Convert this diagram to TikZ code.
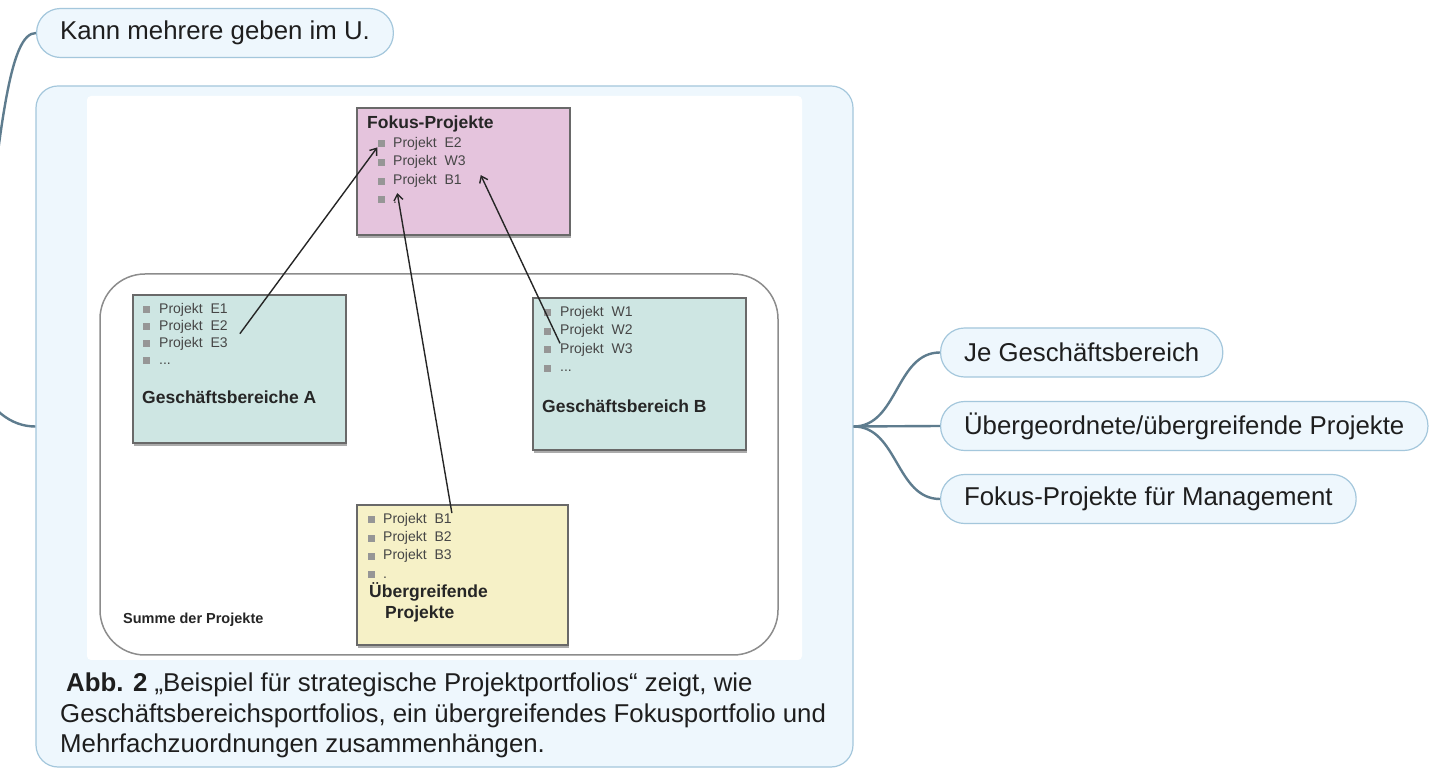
\documentclass[tikz,border=0pt]{standalone}
\usepackage{fontspec}
\setmainfont{Liberation Sans}
\usetikzlibrary{
    arrows.meta,
    positioning,
    shadows,
    calc
}
\definecolor{mapFill}{RGB}{238, 247, 253}
\definecolor{mapBorder}{RGB}{164, 199, 220}
\definecolor{mapLine}{RGB}{94, 124, 142}
\definecolor{mapText}{RGB}{30, 30, 30}
\definecolor{fokusPink}{RGB}{229, 196, 221}
\definecolor{bereichTeal}{RGB}{206, 230, 227}
\definecolor{uebergrYellow}{RGB}{246, 241, 199}
\definecolor{boxEdge}{RGB}{105, 105, 105}
\definecolor{bulletGray}{RGB}{150, 150, 150}
\definecolor{itemText}{RGB}{70, 70, 70}
\definecolor{sumEdge}{RGB}{140, 140, 140}
\def\picW{1432}
\def\picH{779}
\tikzset{
    topic/.style={
        rectangle,
        rounded corners=24pt,
        minimum height=49pt,
        inner xsep=23.5pt,
        inner ysep=0pt,
        fill=mapFill,
        draw=mapBorder,
        line width=1.2pt,
        text=mapText,
        font=\fontsize{25.8}{31}\selectfont,
        anchor=west
    },
    figure/.style={
        rectangle,
        rounded corners=22pt,
        fill=mapFill,
        draw=mapBorder,
        line width=1.2pt
    },
    branch/.style={
        draw=mapLine,
        line width=2.4pt
    },
    % Portfolio Diagram Styles
    portfolio/.style={
        rectangle,
        draw=boxEdge,
        line width=1.5pt,
        drop shadow={shadow xshift=1pt, shadow yshift=-3pt, opacity=0.6, fill=black!55}
    },
    bullet/.style={
        rectangle,
        fill=bulletGray,
        minimum size=7pt,
        inner sep=0pt
    },
    item/.style={
        anchor=west,
        inner sep=0pt,
        text height=10pt,
        text depth=3pt,
        text=itemText,
        font=\fontsize{14}{16}\selectfont
    },
    boxTitle/.style={
        anchor=west,
        inner sep=0pt,
        text=black!85,
        font=\bfseries\fontsize{17.5}{21}\selectfont
    },
    pointer/.style={
        draw=black!85,
        line width=1.4pt,
        -{Straight Barb[length=6pt, width=9pt]}
    }
}

\begin{document}
\begin{tikzpicture}[x=1pt, y=1pt]
    \useasboundingbox (0,0) rectangle (\picW, \picH);
    \fill[white] (0,0) rectangle (\picW, \picH);

    % Mind map topics
    \node[topic] (kann) at (36, 746) {Kann mehrere geben im U.};
    \node[figure, minimum width=817pt, minimum height=681pt] (fig) at (444.5, 352.5) {};
    \node[fill=white, rounded corners=4pt, minimum width=715pt, minimum height=564pt] (shot) at (444.5, 401) {};

    \node[topic] (jeBereich) at (940, 426.5) {Je Geschäftsbereich};
    \node[topic] (uebergeordnet) at (940, 353) {Übergeordnete/übergreifende Projekte};
    \node[topic] (fokusMgmt) at (940, 280) {Fokus-Projekte für Management};

    % Branches
    \coordinate (mapRoot) at (-25, 400);
    \begin{scope}
        \clip (0,0) rectangle (\picW, \picH);
        \draw[branch] (mapRoot) .. controls (-2, 660) and (10, 746) .. (kann.west);
        \draw[branch] (mapRoot) .. controls (-10, 370) and (10, 352.5) .. (fig.west);
    \end{scope}
    \draw[branch] (fig.east) to[out=0, in=180] (jeBereich.west);
    \draw[branch] (fig.east) -- (uebergeordnet.west);
    \draw[branch] (fig.east) to[out=0, in=180] (fokusMgmt.west);

    % Sum of projects
    \node[draw=sumEdge, line width=1.5pt, rounded corners=45pt, minimum width=678pt, minimum height=381pt] (summe) at (439, 314.5) {};
    \node[boxTitle, font=\bfseries\fontsize{14.5}{17}\selectfont] (summeLabel) at (123, 159) {Summe der Projekte};

    % Portfolio boxes
    \node[portfolio, fill=fokusPink, minimum width=213pt, minimum height=127pt] (fokus) at (463.5, 607.5) {};
    \node[portfolio, fill=bereichTeal, minimum width=213pt, minimum height=148pt] (bereichA) at (239.5, 410) {};
    \node[portfolio, fill=bereichTeal, minimum width=213pt, minimum height=152pt] (bereichB) at (639.5, 405) {};
    \node[portfolio, fill=uebergrYellow, minimum width=211pt, minimum height=140pt] (uebergr) at (462.5, 204) {};

    % Fokus-Projekte
    \node[boxTitle] (fTitle) at (367, 655) {Fokus-Projekte};
    \foreach \p [count=\i] in {E2, W3, B1} {
        \node[bullet] (fBul\i) at (381, {654-18.7*\i}) {};
        \node[item] (fItem\i) at (393, {654-18.7*\i}) {Projekt~ \p};
    }
    \node[bullet] (fBul4) at (381, 579.2) {};
    \node[item] (fItem4) at (393, 579.2) {.};

    % Geschaeftsbereich A
    \foreach \p [count=\i] in {E1, E2, E3} {
        \node[bullet] (aBul\i) at (146, {486-17*\i}) {};
        \node[item] (aItem\i) at (159, {486-17*\i}) {Projekt~ \p};
    }
    \node[bullet] (aBul4) at (146, 418) {};
    \node[item] (aItem4) at (159, 418) {...};
    \node[boxTitle] (aTitle) at (142, 382) {Geschäftsbereiche A};

    % Geschaeftsbereich B
    \foreach \p [count=\i] in {W1, W2, W3} {
        \node[bullet] (bBul\i) at (547, {484.5-18.5*\i}) {};
        \node[item] (bItem\i) at (560, {484.5-18.5*\i}) {Projekt~ \p};
    }
    \node[bullet] (bBul4) at (547, 410.5) {};
    \node[item] (bItem4) at (560, 410.5) {...};
    \node[boxTitle] (bTitle) at (542, 373) {Geschäftsbereich B};

    % Uebergreifende Projekte
    \foreach \p [count=\i] in {B1, B2, B3} {
        \node[bullet] (uBul\i) at (371, {277.5-18.3*\i}) {};
        \node[item] (uItem\i) at (383, {277.5-18.3*\i}) {Projekt~ \p};
    }
    \node[bullet] (uBul4) at (371, 204.3) {};
    \node[item] (uItem4) at (383, 204.3) {.};
    \node[boxTitle, align=left, anchor=north west] (uTitle) at (369, 197) {Übergreifende\\\hspace*{16pt}Projekte};

    % Pointers
    \draw[pointer] ([xshift=12pt]aItem2.south east) -- (fBul1.south west);
    \draw[pointer] (uItem1.north east) -- (fItem4.north east);
    \draw[pointer] (bItem3.north west) -- ([shift={(15,-6)}]fItem2.south east);

    % Caption
    \node[anchor=north west, inner sep=0pt, align=left, text=mapText, font=\fontsize{25.8}{30.5}\selectfont] (caption) at (60, 106) {\hspace*{6pt}\textbf{Abb. 2} „Beispiel für strategische Projektportfolios“ zeigt, wie\\Geschäftsbereichsportfolios, ein übergreifendes Fokusportfolio und\\Mehrfachzuordnungen zusammenhängen.};
\end{tikzpicture}
\end{document}
